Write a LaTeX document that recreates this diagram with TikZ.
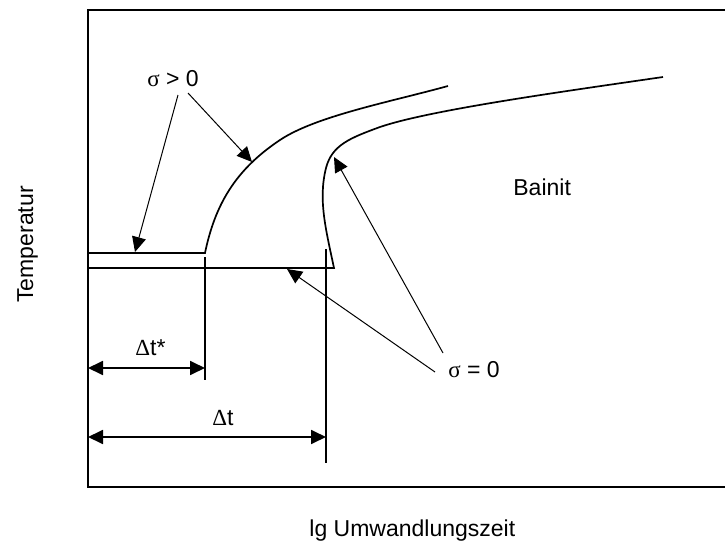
\documentclass[tikz,border=0pt]{standalone}
\usepackage{fontspec}
\setmainfont{Liberation Sans}
\newfontfamily\greekfont{Liberation Serif}
\usetikzlibrary{arrows.meta}

\begin{document}
\begin{tikzpicture}[x=0.5pt,y=-0.5pt,
    curve/.style={line width=0.85pt},
    thin line/.style={line width=0.6pt},
    leader/.style={line width=0.5pt,-{Triangle[length=7.5pt,width=7pt]}},
    dimline/.style={line width=0.9pt,{Triangle[length=7.5pt,width=7pt]}-{Triangle[length=7.5pt,width=7pt]}},
    lbl/.style={inner sep=0pt,anchor=base west,font=\fontsize{11.5}{13}\selectfont}]
  \useasboundingbox (0,0) rectangle (725,546);
  % frame
  \draw[line width=0.7pt] (725,10) -- (88,10) -- (88,487) -- (725,487);
  % curve sigma > 0
  \coordinate (gtStart) at (205,253);
  \draw[curve] (88,253) -- (gtStart)
    .. controls (215,205) and (235,170) .. (280,140)
    .. controls (316,116) and (390,102) .. (448,86);
  % curve sigma = 0
  \coordinate (eqStart) at (334,268);
  \draw[curve] (88,268) -- (eqStart)
    .. controls (326,230) and (318,200) .. (326,168)
    .. controls (332,145) and (350,138) .. (380,127)
    .. controls (430,110) and (560,92) .. (663,77);
  % ticks
  \coordinate (tsTop) at (205,257);
  \coordinate (tsBot) at (205,380);
  \coordinate (tTop) at (326,249);
  \coordinate (tBot) at (326,463);
  \draw[thin line] (tsTop) -- (tsBot);
  \draw[thin line] (tTop) -- (tBot);
  % dimensions
  \coordinate (dsL) at (88,368);
  \coordinate (dsR) at (205,368);
  \coordinate (dL) at (88,437);
  \coordinate (dR) at (326,437);
  \draw[dimline] (dsL) -- (dsR);
  \draw[dimline] (dL) -- (dR);
  \node[lbl] (dtstar) at (135,355) {{\greekfont Δ}t*};
  \node[lbl] (dt) at (212,425) {{\greekfont Δ}t};
  % labels
  \node[lbl] (sgt) at (147,87) {{\greekfont σ} > 0};
  \node[lbl] (seq) at (448,378) {{\greekfont σ} = 0};
  \node[lbl] (bainit) at (513,195) {Bainit};
  \node[lbl] (xlab) at (309,537) {lg Umwandlungszeit};
  \node[lbl,rotate=90] (ylab) at (33,303) {Temperatur};
  % leaders
  \coordinate (gtTailA) at (178,95);
  \coordinate (gtTailB) at (188,93);
  \coordinate (gtTipA) at (135,252);
  \coordinate (gtTipB) at (252,162);
  \coordinate (eqTailA) at (435,372);
  \coordinate (eqTailB) at (443,353);
  \coordinate (eqTipA) at (287,269);
  \coordinate (eqTipB) at (334,157);
  \draw[leader] (gtTailA) -- (gtTipA);
  \draw[leader] (gtTailB) -- (gtTipB);
  \draw[leader] (eqTailA) -- (eqTipA);
  \draw[leader] (eqTailB) -- (eqTipB);
\end{tikzpicture}
\end{document}
